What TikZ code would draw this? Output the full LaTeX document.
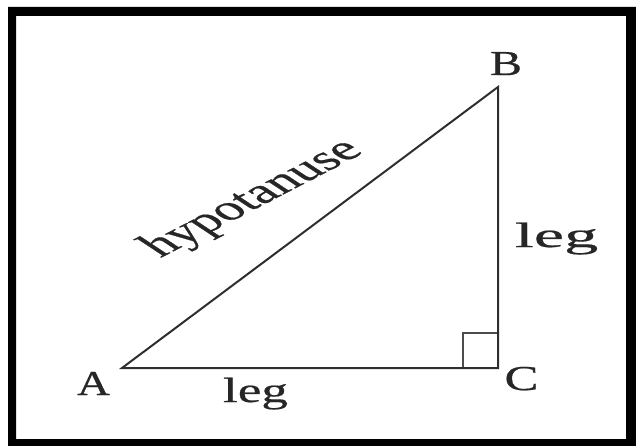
\documentclass[tikz,border=0pt]{standalone}
\usepackage{fontspec}
\setmainfont{Liberation Serif}
\newfontfamily\heavyserif[FakeBold=0.5]{Liberation Serif}
\begin{document}
\begin{tikzpicture}[x=1pt,y=-1pt,
  edge/.style={draw=black!82, line width=2pt, line join=miter},
  sqmark/.style={draw=black!70, line width=1.8pt},
  lbl/.style={font=\heavyserif\fontsize{35}{35}\selectfont, inner sep=0pt, text=black!85}]
\useasboundingbox (0,0) rectangle (636,446);
\fill[black, even odd rule] (8,7) rectangle (636,446) (16,16) rectangle (626,439);
\coordinate (A) at (122,368);
\coordinate (B) at (498,87);
\coordinate (C) at (498,368);
\coordinate (S1) at (463,368);
\coordinate (S2) at (498,333);
\draw[sqmark] (S1) |- (S2);
\draw[edge] (A) -- (B) -- (C) -- cycle;
\node[lbl, anchor=base, xscale=1.37] (lB) at (506,75) {B};
\node[lbl, anchor=base, xscale=1.3] (lA) at (93.5,395) {A};
\node[lbl, anchor=base, xscale=1.45] (lC) at (521.5,390) {C};
\node[lbl, anchor=base, xscale=1.52] (legb) at (255.5,402) {leg};
\node[lbl, anchor=base, xscale=1.95] (legr) at (556.5,247) {leg};
\node[lbl, xscale=1.71, rotate=41.5] (hyp) at (253,199) {hypotanuse};
\end{tikzpicture}
\end{document}
